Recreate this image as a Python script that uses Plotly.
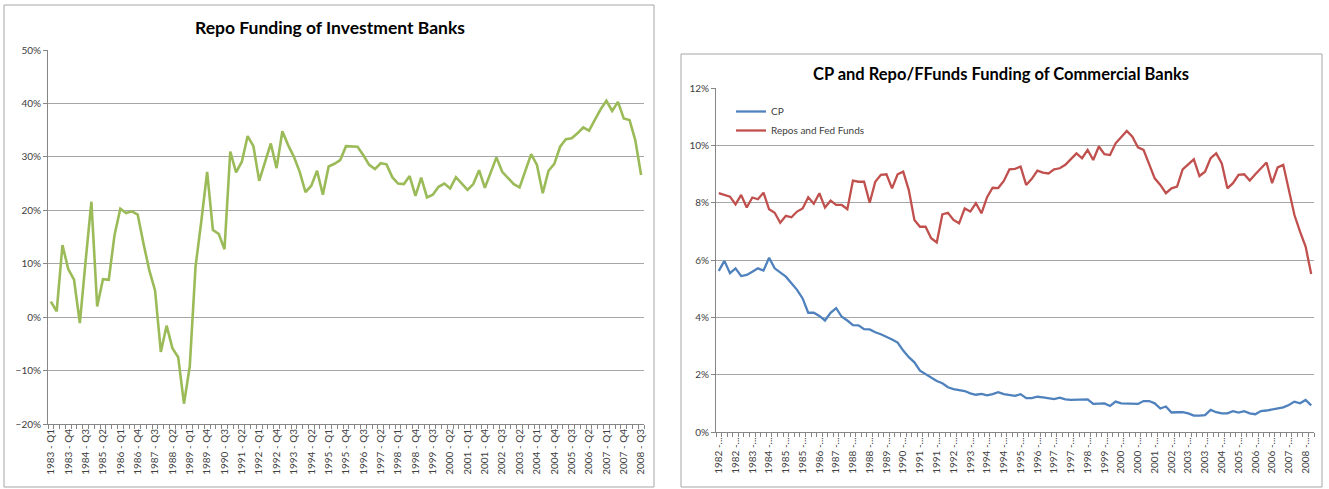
import plotly.graph_objects as go

W, H = 1329, 489

# ---------------- data ----------------
ib_quarters = [f"{y} - Q{q}" for y in range(1983, 2009) for q in range(1, 5)][:103]
ib_repo = [2.9, 1.1, 13.5, 9.0, 7.0, -1.1, 10.5, 21.6, 2.0, 7.1, 7.0, 15.4, 20.3, 19.5, 19.8, 19.2,
           13.8, 8.8, 5.0, -6.5, -1.6, -5.8, -7.5, -16.2, -9.2, 9.5, 18.0, 27.2, 16.3, 15.6, 12.7,
           31.0, 27.1, 29.1, 33.9, 32.0, 25.5, 28.8, 32.5, 27.9, 34.8, 32.2, 30.0, 27.2, 23.4, 24.6,
           27.4, 22.9, 28.2, 28.7, 29.4, 32.0, 32.0, 31.9, 30.3, 28.5, 27.7, 28.8, 28.6, 26.2, 25.0,
           24.9, 26.4, 22.7, 26.1, 22.4, 22.9, 24.4, 25.0, 24.1, 26.2, 24.9, 23.8, 24.9, 27.5, 24.2,
           27.2, 29.9, 27.2, 26.0, 24.9, 24.3, 27.2, 30.5, 28.5, 23.2, 27.4, 28.7, 31.9, 33.3, 33.5,
           34.4, 35.5, 34.9, 36.9, 38.9, 40.5, 38.6, 40.3, 37.2, 36.9, 33.1, 26.6]

cb_quarters = [f"{y} - Q{q}" for y in range(1982, 2009) for q in range(1, 5)][:107]
cb_cp = [5.63, 5.98, 5.55, 5.72, 5.45, 5.49, 5.60, 5.72, 5.64, 6.09, 5.72, 5.57, 5.43, 5.20, 4.97,
         4.67, 4.17, 4.17, 4.06, 3.90, 4.17, 4.33, 4.03, 3.90, 3.74, 3.73, 3.60, 3.59, 3.49, 3.42,
         3.34, 3.24, 3.13, 2.85, 2.62, 2.44, 2.15, 2.03, 1.88, 1.79, 1.71, 1.57, 1.51, 1.48, 1.44,
         1.36, 1.31, 1.34, 1.29, 1.33, 1.40, 1.33, 1.29, 1.27, 1.33, 1.19, 1.19, 1.24, 1.22, 1.19,
         1.16, 1.21, 1.15, 1.13, 1.13, 1.15, 1.15, 0.99, 0.99, 1.01, 0.92, 1.07, 1.01, 1.01, 1.01,
         0.99, 1.09, 1.09, 1.01, 0.83, 0.90, 0.69, 0.70, 0.70, 0.66, 0.58, 0.58, 0.60, 0.78, 0.70,
         0.66, 0.66, 0.74, 0.69, 0.74, 0.66, 0.63, 0.74, 0.76, 0.80, 0.84, 0.87, 0.95, 1.07, 1.01,
         1.13, 0.94]
cb_repo_ff = [8.34, 8.28, 8.22, 7.95, 8.28, 7.84, 8.19, 8.13, 8.36, 7.78, 7.66, 7.31, 7.55, 7.50,
              7.70, 7.81, 8.20, 7.97, 8.34, 7.84, 8.08, 7.93, 7.93, 7.78, 8.78, 8.74, 8.74, 8.01,
              8.74, 8.98, 9.00, 8.51, 9.00, 9.09, 8.45, 7.41, 7.17, 7.17, 6.77, 6.62, 7.60, 7.66,
              7.41, 7.29, 7.81, 7.70, 7.99, 7.64, 8.20, 8.53, 8.52, 8.77, 9.17, 9.19, 9.27, 8.63,
              8.84, 9.13, 9.06, 9.03, 9.17, 9.21, 9.33, 9.53, 9.73, 9.56, 9.85, 9.50, 9.97, 9.70,
              9.67, 10.08, 10.29, 10.51, 10.31, 9.94, 9.85, 9.33, 8.86, 8.63, 8.34, 8.51, 8.57,
              9.17, 9.33, 9.52, 8.94, 9.09, 9.56, 9.73, 9.38, 8.51, 8.69, 8.98, 9.00, 8.78, 9.00,
              9.21, 9.41, 8.69, 9.24, 9.33, 8.51, 7.58, 7.00, 6.48, 5.52]

ib_idx = list(range(len(ib_quarters)))
cb_idx = list(range(len(cb_quarters)))
ib_tickvals = ib_idx[::3]
ib_ticktext = ib_quarters[::3]
cb_tickvals = cb_idx[::3]
cb_ticktext = [q[:6] + "..." for q in cb_quarters[::3]]

# ---------------- figure ----------------
FONT = "Lato"
TXT = "#404040"
GRID = "#a6a6a6"
AXL = "#868686"

fig = go.Figure()
fig.add_trace(go.Scatter(x=ib_idx, y=ib_repo, mode="lines", showlegend=False,
                         line=dict(color="#9BBB59", width=2.6), xaxis="x", yaxis="y"))
fig.add_trace(go.Scatter(x=cb_idx, y=cb_cp, mode="lines", name="CP",
                         line=dict(color="#4F81BD", width=2.3), xaxis="x2", yaxis="y2"))
fig.add_trace(go.Scatter(x=cb_idx, y=cb_repo_ff, mode="lines", name="Repos and Fed Funds",
                         line=dict(color="#C0504D", width=2.3), xaxis="x2", yaxis="y2"))


def px_x(p):
    return p / W


def px_y(p):
    return 1 - p / H


common_x = dict(tickangle=-90, ticks="", showgrid=False, zeroline=False, showline=True,
                automargin=False,
                linecolor=AXL, linewidth=1, tickfont=dict(family=FONT, size=10, color=TXT),
                minor=dict(ticks="outside", ticklen=4, tickcolor=AXL, dtick=1, tick0=-0.5,
                           showgrid=False))
common_y = dict(ticksuffix="%", showgrid=True, gridcolor=GRID, gridwidth=1, zeroline=False,
                automargin=False,
                showline=True, linecolor=AXL, linewidth=1, ticks="outside", ticklen=4,
                tickcolor=AXL, tickfont=dict(family=FONT, size=10, color=TXT))

fig.update_layout(
    width=W, height=H, autosize=False,
    margin=dict(l=0, r=0, t=0, b=0, pad=0, autoexpand=False),
    paper_bgcolor="white", plot_bgcolor="white",
    font=dict(family=FONT, color=TXT),
    hovermode=False,
    xaxis=dict(domain=[px_x(48), px_x(644)], range=[-0.5, len(ib_idx) - 0.5], anchor="y",
               tickmode="array", tickvals=ib_tickvals, ticktext=ib_ticktext, **common_x),
    yaxis=dict(domain=[px_y(424), px_y(50)], range=[-20, 50], dtick=10, anchor="x", **common_y),
    xaxis2=dict(domain=[px_x(716), px_x(1314)], range=[-0.5, len(cb_idx) - 0.5], anchor="y2",
                tickmode="array", tickvals=cb_tickvals, ticktext=cb_ticktext, **common_x),
    yaxis2=dict(domain=[px_y(432.3), px_y(88.3)], range=[0, 12], dtick=2, anchor="x2", **common_y),
    legend=dict(x=px_x(731), y=px_y(97), xanchor="left", yanchor="top",
                bgcolor="rgba(0,0,0,0)", font=dict(family=FONT, size=10, color=TXT),
                itemwidth=30, tracegroupgap=0),
    shapes=[
        dict(type="rect", xref="paper", yref="paper", x0=px_x(4), x1=px_x(654),
             y0=px_y(487), y1=px_y(5), line=dict(color=GRID, width=1), layer="below"),
        dict(type="rect", xref="paper", yref="paper", x0=px_x(681), x1=px_x(1322),
             y0=px_y(487), y1=px_y(54), line=dict(color=GRID, width=1), layer="below"),
    ],
    annotations=[
        dict(text="<b>Repo Funding of Investment Banks</b>", xref="paper", yref="paper",
             x=px_x(330), y=px_y(27), xanchor="center", yanchor="middle", showarrow=False,
             font=dict(family=FONT, size=17.5, color="#000000")),
        dict(text="<b>CP and Repo/FFunds Funding of Commercial Banks</b>", xref="paper",
             yref="paper", x=px_x(1001), y=px_y(74), xanchor="center", yanchor="middle",
             showarrow=False, font=dict(family=FONT, size=16.5, color="#000000")),
    ],
)

fig.write_html("out.html", config={"displayModeBar": False, "staticPlot": True},
               post_script="document.body.style.margin='0';")
